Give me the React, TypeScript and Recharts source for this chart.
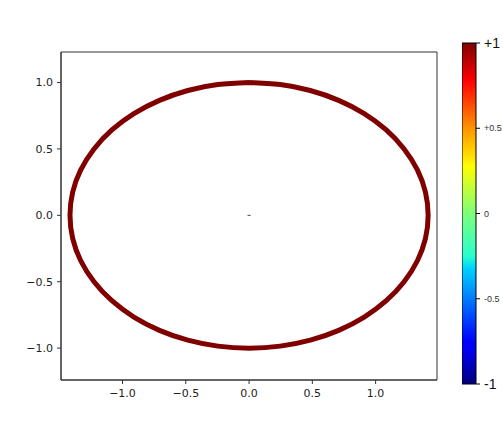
import {
  ComposedChart,
  Line,
  Scatter,
  XAxis,
  YAxis,
  ReferenceArea,
  BarChart,
  Bar,
} from "recharts";

// ellipse, going clockwise from the top
const ellipseX = [
  0, 0.246, 0.484, 0.708, 0.91, 1.084, 1.225, 1.33, 1.394, 1.415,
  1.394, 1.33, 1.225, 1.084, 0.91, 0.708, 0.484, 0.246, 0,
  -0.246, -0.484, -0.708, -0.91, -1.084, -1.225, -1.33, -1.394, -1.415,
  -1.394, -1.33, -1.225, -1.084, -0.91, -0.708, -0.484, -0.246, 0,
];
const ellipseY = [
  1, 0.985, 0.94, 0.866, 0.766, 0.643, 0.5, 0.342, 0.174, 0,
  -0.174, -0.342, -0.5, -0.643, -0.766, -0.866, -0.94, -0.985, -1,
  -0.985, -0.94, -0.866, -0.766, -0.643, -0.5, -0.342, -0.174, 0,
  0.174, 0.342, 0.5, 0.643, 0.766, 0.866, 0.94, 0.985, 1,
];
const centerX = [0];
const centerY = [0];

const xTicks = [-1, -0.5, 0, 0.5, 1];
const yTicks = [-1, -0.5, 0, 0.5, 1];
const xDomain = [-1.486, 1.485];
const yDomain = [-1.24, 1.23];

const cbTicks = [-1, -0.5, 0, 0.5, 1];
const cbLabels = ["-1", "-0.5", "0", "+0.5", "+1"];

// matplotlib jet, bottom (-1) to top (+1)
const jetStops = [
  { offset: 0, color: "#00007f" },
  { offset: 0.11, color: "#0000ff" },
  { offset: 0.125, color: "#0000ff" },
  { offset: 0.34, color: "#00d4ff" },
  { offset: 0.375, color: "#29ffce" },
  { offset: 0.5, color: "#7dff7a" },
  { offset: 0.64, color: "#ffff00" },
  { offset: 0.66, color: "#ffe600" },
  { offset: 0.75, color: "#ff9400" },
  { offset: 0.89, color: "#ff0000" },
  { offset: 0.91, color: "#e80000" },
  { offset: 1, color: "#7f0000" },
];

const ellipse = ellipseX.map((x, i) => ({ x, y: ellipseY[i] }));
const center = centerX.map((x, i) => ({ x, y: centerY[i] }));
const cbData = [{ name: "jet", range: [-1, 1] }];

const fmt = (v: number) => v.toFixed(1).replace("-", "\u2212");

const tickStyle = { fontSize: 11, fill: "#222", fontFamily: "DejaVu Sans" };

function CbTick({ x, y, payload }: any) {
  const i = cbTicks.indexOf(payload.value);
  const big = Math.abs(payload.value) === 1;
  return (
    <text
      x={x}
      y={y}
      dy={big ? 5 : 3}
      fontSize={big ? 14 : 9}
      fontFamily="Liberation Sans"
      fill={big ? "#111" : "#333"}
      textAnchor="start"
    >
      {cbLabels[i]}
    </text>
  );
}

export default function App() {
  return (
    <div
      style={{
        position: "absolute",
        left: 0,
        top: 0,
        width: 503,
        height: 427,
        background: "#fff",
        fontFamily: "DejaVu Sans",
      }}
    >
      <ComposedChart
        width={503}
        height={427}
        margin={{ top: 52, right: 66, left: 11, bottom: 17 }}
      >
        <XAxis
          dataKey="x"
          type="number"
          domain={xDomain}
          allowDataOverflow
          ticks={xTicks}
          tickFormatter={fmt}
          tick={tickStyle}
          tickSize={4}
          tickMargin={5}
          height={30}
          axisLine={{ stroke: "#333" }}
          tickLine={{ stroke: "#333" }}
        />
        <YAxis
          dataKey="y"
          type="number"
          domain={yDomain}
          allowDataOverflow
          ticks={yTicks}
          tickFormatter={fmt}
          tick={tickStyle}
          tickSize={4}
          tickMargin={4}
          width={50}
          axisLine={{ stroke: "#333" }}
          tickLine={{ stroke: "#333" }}
        />
        <ReferenceArea
          x1={xDomain[0]}
          x2={xDomain[1]}
          y1={yDomain[0]}
          y2={yDomain[1]}
          fill="none"
          stroke="#333"
          strokeWidth={1}
          ifOverflow="visible"
        />
        <Line
          data={ellipse}
          dataKey="y"
          type="natural"
          stroke="#800000"
          strokeWidth={5}
          dot={false}
          activeDot={false}
          isAnimationActive={false}
        />
        <Scatter
          data={center}
          dataKey="y"
          isAnimationActive={false}
          shape={(p: any) => (
            <rect x={p.cx - 1.5} y={p.cy - 0.5} width={3} height={1} fill="#444" />
          )}
        />
      </ComposedChart>

      <div style={{ position: "absolute", left: 462, top: 0 }}>
        <BarChart
          width={41}
          height={427}
          data={cbData}
          barCategoryGap={0}
          margin={{ top: 43, right: 0, left: 0, bottom: 43 }}
        >
          <defs>
            <linearGradient id="jet" x1="0" y1="1" x2="0" y2="0">
              {jetStops.map((s) => (
                <stop key={s.offset} offset={s.offset} stopColor={s.color} />
              ))}
            </linearGradient>
          </defs>
          <XAxis dataKey="name" hide />
          <YAxis
            orientation="right"
            type="number"
            domain={[-1, 1]}
            ticks={cbTicks}
            width={27}
            tickSize={4}
            tickMargin={4}
            axisLine={false}
            tickLine={{ stroke: "#000" }}
            tick={<CbTick />}
          />
          <Bar
            dataKey="range"
            fill="url(#jet)"
            stroke="#000"
            strokeWidth={1}
            isAnimationActive={false}
          />
        </BarChart>
      </div>
    </div>
  );
}
